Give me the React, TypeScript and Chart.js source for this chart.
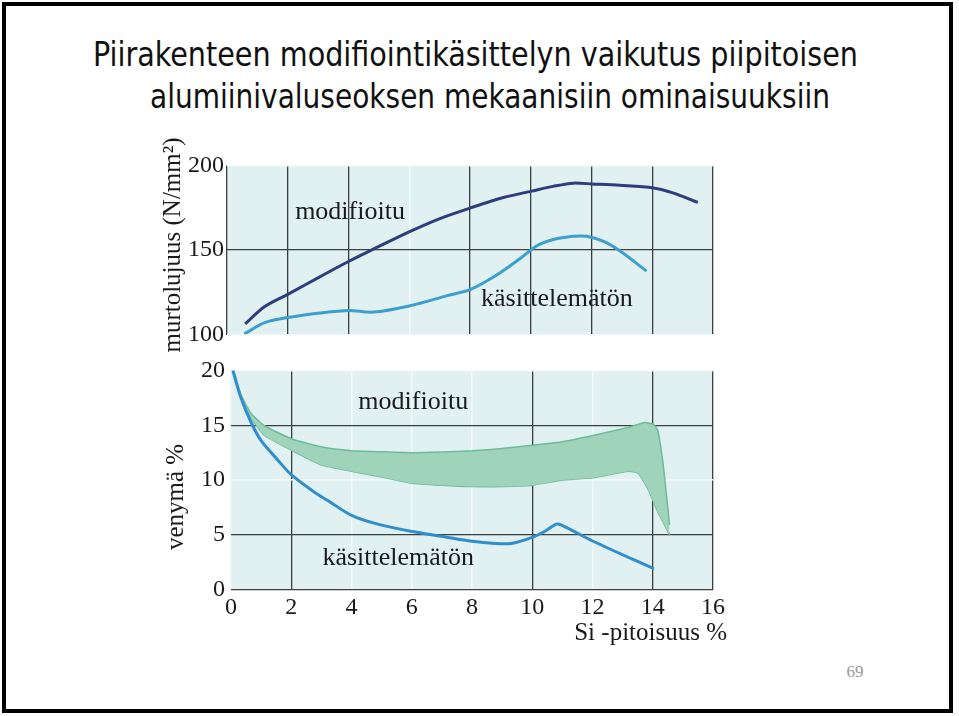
import React, { useEffect, useRef } from 'react';
import { Chart, registerables } from 'chart.js';

Chart.register(...registerables);

// ---- Data (Si-pitoisuus %) ----
const siTicks = [0, 2, 4, 6, 8, 10, 12, 14, 16];
const strengthTicks = [100, 150, 200];
const elongationTicks = [0, 5, 10, 15, 20];

// Top panel: murtolujuus (N/mm²)
const modStrengthSi = [0.6, 1.21, 2.0, 3.07, 4.0, 4.82, 6.03, 7.01, 8.02, 9.1, 10.03, 10.74, 11.4, 12.03, 12.93, 14.03, 14.68, 15.5];
const modStrength = [106.3, 116.2, 123.8, 134.3, 143.2, 150.5, 161, 168.6, 174.9, 181, 184.8, 187.6, 189.5, 189, 188.2, 186.7, 183.8, 178.1];

const untStrengthSi = [0.57, 1.26, 2.0, 3.07, 4.0, 4.82, 6.03, 7.23, 8.02, 8.88, 9.64, 10.19, 10.74, 11.4, 11.84, 12.38, 12.93, 13.81];
const untStrength = [100.4, 107.2, 110.1, 112.8, 114.3, 113.3, 117.1, 122.9, 126.7, 135.2, 144.8, 152.4, 156.2, 158.1, 158.1, 155.2, 149.5, 137.5];

// Bottom panel: venymä %
const untElongSi = [0.06, 0.33, 0.66, 1.0, 1.55, 2.0, 2.77, 3.21, 4.0, 4.87, 6.01, 6.98, 8.0, 8.75, 9.3, 10.0, 10.41, 10.8, 10.96, 12.02, 14.04];
const untElong = [20, 17.5, 15.3, 13.6, 11.85, 10.5, 8.9, 8.15, 6.8, 6.0, 5.33, 4.9, 4.44, 4.24, 4.24, 4.8, 5.33, 6.0, 5.93, 4.44, 1.93];

const modElongUpperSi = [0.06, 0.33, 0.66, 1.11, 2.0, 2.99, 4.0, 4.87, 6.01, 6.98, 8.0, 9.08, 10.0, 10.96, 12.02, 13.18, 13.73, 14.04, 14.17, 14.34, 14.48, 14.56];
const modElongUpper = [20.3, 17.8, 16.1, 14.96, 13.78, 13.04, 12.68, 12.6, 12.5, 12.56, 12.68, 12.9, 13.19, 13.48, 14.07, 14.81, 15.26, 15.05, 14.5, 11.56, 8.0, 5.93];

const modElongLowerSi = [0.06, 0.33, 0.66, 1.11, 2.0, 2.99, 4.0, 4.87, 6.01, 6.98, 8.0, 9.08, 10.0, 10.96, 12.02, 13.18, 13.51, 13.84, 14.17, 14.56];
const modElongLower = [20.0, 17.5, 15.7, 14.07, 12.74, 11.4, 10.81, 10.37, 9.72, 9.54, 9.42, 9.42, 9.54, 10.0, 10.22, 10.81, 10.67, 9.2, 7.1, 5.04];

const pairs = (xs: number[], ys: number[]) => xs.map((x, i) => ({ x, y: ys[i] }));

// ---- Styling config ----
const PLOT_BG = '#e1f0f1';
const DARK = '#3b3f40';
const LIGHT = '#f3f9f9';
const SERIF = '"Liberation Serif", "DejaVu Serif", serif';
const topDarkX = [0, 2, 4, 8, 10, 12, 14, 16];
const topDarkY = [150];
const botDarkX = [2, 10, 14, 16];
const botDarkY = [0, 5, 15];

const plotBg = {
  id: 'plotBg',
  beforeDraw(chart: any) {
    const { ctx, chartArea: a } = chart;
    ctx.save();
    ctx.fillStyle = PLOT_BG;
    ctx.fillRect(a.left, a.top, a.right - a.left, a.bottom - a.top);
    ctx.restore();
  },
};

const makeLabels = (items: { text: string; x: number; y: number }[]) => ({
  id: 'inlineLabels',
  afterDatasetsDraw(chart: any) {
    const { ctx, scales } = chart;
    ctx.save();
    ctx.font = `26px ${SERIF}`;
    ctx.fillStyle = '#1a1a1a';
    ctx.textAlign = 'center';
    ctx.textBaseline = 'middle';
    items.forEach((it) => ctx.fillText(it.text, scales.x.getPixelForValue(it.x), scales.y.getPixelForValue(it.y)));
    ctx.restore();
  },
});

const gridColor = (darkVals: number[]) => (c: any) =>
  c.tick && darkVals.includes(c.tick.value) ? DARK : LIGHT;
const gridWidth = (darkVals: number[]) => (c: any) =>
  c.tick && darkVals.includes(c.tick.value) ? 1.3 : 1.5;

export default function App() {
  const topRef = useRef<HTMLCanvasElement>(null);
  const botRef = useRef<HTMLCanvasElement>(null);
  const t1Ref = useRef<HTMLDivElement>(null);
  const t2Ref = useRef<HTMLDivElement>(null);

  useEffect(() => {
    // fit title lines to the reference widths
    const fit = (el: HTMLDivElement | null, target: number) => {
      if (!el) return;
      const w = el.getBoundingClientRect().width;
      if (w > 0) el.style.transform = `scaleX(${target / w})`;
    };
    fit(t1Ref.current, 765);
    fit(t2Ref.current, 680);

    const tickFont = { family: SERIF, size: 24 };

    const top = new Chart(topRef.current!, {
      type: 'line',
      data: {
        datasets: [
          {
            label: 'modifioitu',
            data: pairs(modStrengthSi, modStrength),
            borderColor: '#2c3e7c',
            borderWidth: 3,
            pointRadius: 0,
            tension: 0.3,
            fill: false,
          },
          {
            label: 'käsittelemätön',
            data: pairs(untStrengthSi, untStrength),
            borderColor: '#3d9fce',
            borderWidth: 3,
            pointRadius: 0,
            tension: 0.3,
            fill: false,
          },
        ],
      },
      options: {
        animation: false,
        responsive: false,
        layout: { padding: { top: 14, right: 17, left: 0, bottom: 0 } },
        plugins: { legend: { display: false }, tooltip: { enabled: false } },
        scales: {
          x: {
            type: 'linear',
            min: 0,
            max: 16,
            afterBuildTicks: (s: any) => { s.ticks = siTicks.map((v) => ({ value: v })); },
            ticks: { display: false },
            grid: { color: gridColor(topDarkX), lineWidth: gridWidth(topDarkX), drawTicks: false },
            border: { display: false },
            afterFit: (s: any) => { s.height = 15; },
          },
          y: {
            min: 100,
            max: 200,
            afterBuildTicks: (s: any) => { s.ticks = strengthTicks.map((v) => ({ value: v })); },
            ticks: { font: tickFont, color: '#1a1a1a', padding: 3 },
            grid: { color: gridColor(topDarkY), lineWidth: gridWidth(topDarkY), drawTicks: false },
            border: { display: false },
            afterFit: (s: any) => { s.width = 77; },
          },
        },
      },
      plugins: [
        plotBg,
        makeLabels([
          { text: 'modifioitu', x: 4.05, y: 172.6 },
          { text: 'käsittelemätön', x: 10.86, y: 121.1 },
        ]),
      ],
    } as any);

    const bot = new Chart(botRef.current!, {
      type: 'line',
      data: {
        datasets: [
          {
            label: 'käsittelemätön',
            data: pairs(untElongSi, untElong),
            borderColor: '#2f8ecb',
            borderWidth: 3,
            pointRadius: 0,
            tension: 0.3,
            fill: false,
          },
          {
            label: 'modifioitu (yläraja)',
            data: pairs(modElongUpperSi, modElongUpper),
            borderColor: '#6cbd98',
            backgroundColor: '#9fd3ba',
            borderWidth: 1.5,
            pointRadius: 0,
            tension: 0.15,
            fill: 2,
          },
          {
            label: 'modifioitu (alaraja)',
            data: pairs(modElongLowerSi, modElongLower),
            borderColor: '#6cbd98',
            borderWidth: 1.5,
            pointRadius: 0,
            tension: 0.15,
            fill: false,
          },
        ],
      },
      options: {
        animation: false,
        responsive: false,
        layout: { padding: { top: 15, right: 17, left: 0, bottom: 0 } },
        plugins: { legend: { display: false }, tooltip: { enabled: false } },
        scales: {
          x: {
            type: 'linear',
            min: 0,
            max: 16,
            afterBuildTicks: (s: any) => { s.ticks = siTicks.map((v) => ({ value: v })); },
            ticks: { font: tickFont, color: '#1a1a1a', padding: 3, maxRotation: 0 },
            grid: { color: gridColor(botDarkX), lineWidth: gridWidth(botDarkX), drawTicks: false },
            border: { display: false },
            afterFit: (s: any) => { s.height = 50; },
          },
          y: {
            min: 0,
            max: 20,
            afterBuildTicks: (s: any) => { s.ticks = elongationTicks.map((v) => ({ value: v })); },
            ticks: { font: tickFont, color: '#1a1a1a', padding: 6 },
            grid: { color: gridColor(botDarkY), lineWidth: gridWidth(botDarkY), drawTicks: false },
            border: { display: false },
            afterFit: (s: any) => { s.width = 81; },
          },
        },
      },
      plugins: [
        plotBg,
        makeLabels([
          { text: 'modifioitu', x: 6.05, y: 17.07 },
          { text: 'käsittelemätön', x: 5.55, y: 2.93 },
        ]),
      ],
    } as any);

    return () => {
      top.destroy();
      bot.destroy();
    };
  }, []);

  const abs = (s: React.CSSProperties): React.CSSProperties => ({ position: 'absolute', ...s });
  const titleFont: React.CSSProperties = {
    fontFamily: '"Liberation Sans Narrow", "DejaVu Sans Condensed", "DejaVu Sans", sans-serif',
    fontSize: 34,
    lineHeight: '42px',
    color: '#111',
    whiteSpace: 'nowrap',
    transformOrigin: 'left center',
  };

  return (
    <div style={{ position: 'fixed', left: 0, top: 0, width: 959, height: 716, background: '#fff', overflow: 'hidden' }}>
      <div style={abs({ left: 2, top: 2, width: 951, height: 711, border: '4px solid #000', boxSizing: 'border-box' })} />
      <div ref={t1Ref} style={abs({ left: 93, top: 33, ...titleFont })}>
        Piirakenteen modifiointikäsittelyn vaikutus piipitoisen
      </div>
      <div ref={t2Ref} style={abs({ left: 150, top: 75, ...titleFont })}>
        alumiinivaluseoksen mekaanisiin ominaisuuksiin
      </div>
      <canvas ref={topRef} width={580} height={204} style={abs({ left: 150, top: 148 })} />
      <canvas ref={botRef} width={580} height={290} style={abs({ left: 150, top: 350 })} />
      <div
        style={abs({
          left: 172,
          top: 245,
          transform: 'translate(-50%, -50%) rotate(-90deg)',
          fontFamily: SERIF,
          fontSize: 25,
          color: '#1a1a1a',
          whiteSpace: 'nowrap',
        })}
      >
        murtolujuus (N/mm²)
      </div>
      <div
        style={abs({
          left: 175,
          top: 497,
          transform: 'translate(-50%, -50%) rotate(-90deg)',
          fontFamily: SERIF,
          fontSize: 25,
          color: '#1a1a1a',
          whiteSpace: 'nowrap',
        })}
      >
        venymä %
      </div>
      <div
        style={abs({
          right: 959 - 727,
          top: 618,
          fontFamily: SERIF,
          fontSize: 25,
          color: '#1a1a1a',
          whiteSpace: 'nowrap',
        })}
      >
        Si -pitoisuus %
      </div>
      <div style={abs({ left: 855, top: 672, transform: 'translate(-50%, -50%)', fontFamily: SERIF, fontSize: 17, color: '#999' })}>
        69
      </div>
    </div>
  );
}
